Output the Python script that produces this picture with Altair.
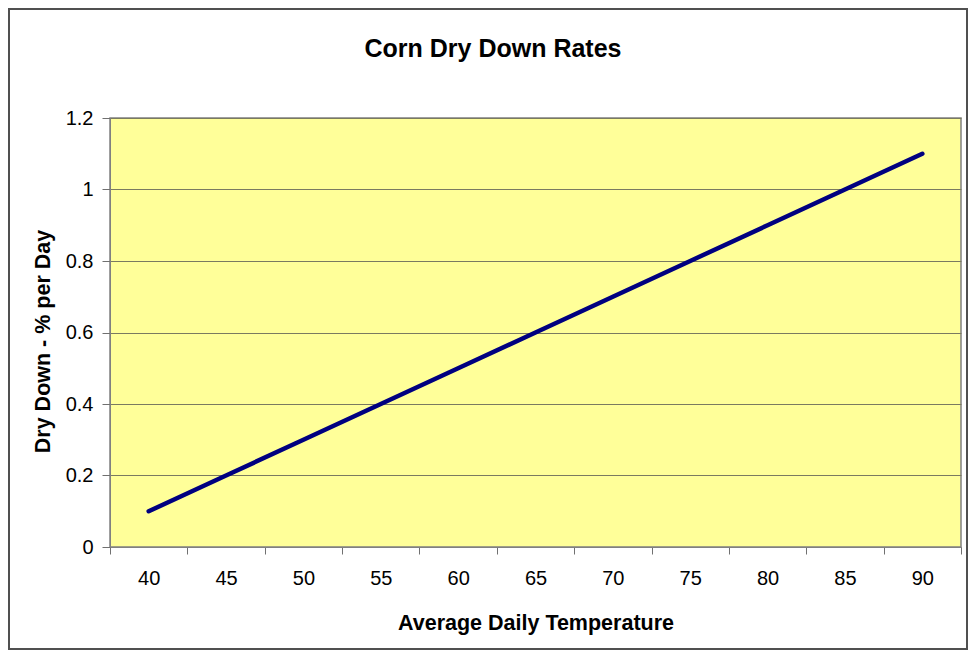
import altair as alt
import pandas as pd

temps = ["40", "45", "50", "55", "60", "65", "70", "75", "80", "85", "90"]
rates = [0.1, 0.2, 0.3, 0.4, 0.5, 0.6, 0.7, 0.8, 0.9, 1.0, 1.1]
y_ticks = [0, 0.2, 0.4, 0.6, 0.8, 1.0, 1.2]
title_text = ["Corn Dry Down Rates"]

df = pd.DataFrame({"temp": temps, "rate": rates})

W, H = 851, 429
PAD_L, PAD_T, PAD_R, PAD_B = 102, 110, 7, 103
FONT = "Liberation Sans"

line = alt.Chart(df).mark_line(
    color="#000080", strokeWidth=4.5, strokeCap="round", strokeJoin="round"
).encode(
    x=alt.X(
        "temp:O",
        sort=temps,
        bandPosition=0.5,
        scale=alt.Scale(type="band", paddingInner=0, paddingOuter=0),
        axis=alt.Axis(
            title="Average Daily Temperature",
            labelAngle=0,
            tickBand="extent",
            grid=False,
            tickSize=7,
            labelPadding=14,
            titlePadding=24,
        ),
    ),
    y=alt.Y(
        "rate:Q",
        scale=alt.Scale(domain=[0, 1.2], nice=False),
        axis=alt.Axis(
            values=y_ticks,
            labelExpr="format(datum.value, '~g')",
            title="Dry Down - % per Day",
            tickSize=8,
            labelPadding=9,
            titlePadding=11,
            grid=True,
            titleY=223,
        ),
    ),
)

border = alt.Chart(pd.DataFrame({"k": [0]})).mark_rect(
    fill="white", fillOpacity=0, stroke="#505050", strokeWidth=2
).encode(
    x=alt.value(-PAD_L + 1),
    x2=alt.value(W + PAD_R - 1),
    y=alt.value(-PAD_T + 1),
    y2=alt.value(H + PAD_B - 1),
)

title = alt.Chart(pd.DataFrame({"t": title_text})).mark_text(
    font=FONT, fontSize=25, fontWeight="bold", color="black",
    align="center", baseline="alphabetic"
).encode(
    text="t:N",
    x=alt.value(383),
    y=alt.value(-61),
)

chart = alt.layer(border, title, line).properties(
    width=W,
    height=H,
    autosize=alt.AutoSizeParams(type="none"),
    padding={"left": PAD_L, "top": PAD_T, "right": PAD_R, "bottom": PAD_B},
).configure_view(
    fill="#FFFF99", stroke="#808080", strokeWidth=1.5
).configure_axis(
    labelFont=FONT,
    labelFontSize=20,
    labelColor="black",
    titleFont=FONT,
    titleFontSize=21.5,
    titleFontWeight="bold",
    titleColor="black",
    tickColor="#707070",
    domainColor="#808080",
    gridColor="#7a7a60",
    gridWidth=1,
)

chart.save("out.html", embed_options={"renderer": "svg", "actions": False})
